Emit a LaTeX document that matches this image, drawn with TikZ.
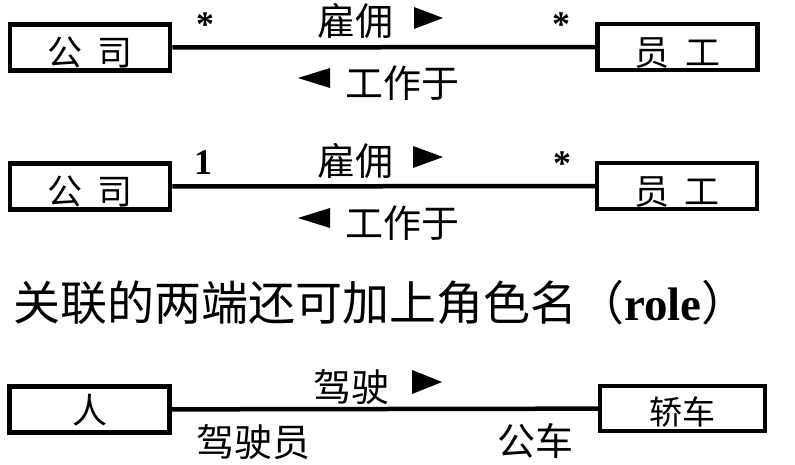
\documentclass[tikz,border=0pt]{standalone}
\usepackage{fontspec}
\setmainfont{Liberation Serif}
\newfontfamily\cjk{Noto Sans CJK SC}
\usetikzlibrary{positioning}

\begin{document}
\begin{tikzpicture}
		[x=1pt,y=-1pt,
		classbox/.style = {draw, line width=4.5pt, minimum width=160pt, minimum height=46pt, inner sep=0pt,
			font=\cjk\fontsize{35}{35}\selectfont, text height=37pt, text depth=0pt},
		assoc/.style = {line width=4.5pt},
		rolename/.style = {inner sep=0pt, font=\cjk\fontsize{38}{38}\selectfont},
		multi/.style = {inner sep=0pt, anchor=base, font=\bfseries\fontsize{36}{36}\selectfont}]
		\useasboundingbox (0,0) rectangle (795,465);
		% first association
		\node[classbox] (co1) at (90,47.5) {公\hspace{0.45em}司};
		\node[classbox] (emp1) at (677.5,47) {员\hspace{0.45em}工};
		\draw[assoc] (co1) -- (emp1);
		\node[multi] (m11) at (205,37) {*};
		\node[multi] (m12) at (561,37) {*};
		\node[rolename] (hire1) at (355,21) {雇佣};
		\node[rolename] (work1) at (402.5,83) {工作于};
		\fill (414,7) -- (443,18) -- (414,29) -- cycle;
		\fill (298,78) -- (330,68) -- (330,88) -- cycle;
		% second association
		\node[classbox] (co2) at (90,186.5) {公\hspace{0.45em}司};
		\node[classbox] (emp2) at (677,186) {员\hspace{0.45em}工};
		\draw[assoc] (co2) -- (emp2);
		\node[multi] (m21) at (203,175) {1};
		\node[multi] (m22) at (562,176) {*};
		\node[rolename] (hire2) at (355,161) {雇佣};
		\node[rolename] (work2) at (402.5,223) {工作于};
		\fill (413,146) -- (443,157) -- (413,168) -- cycle;
		\fill (298,218) -- (330,208) -- (330,228) -- cycle;
		% note
		\node[inner sep=0pt, anchor=west, font=\fontsize{47}{47}\selectfont] (note) at (13,303)
			{{\cjk 关联的两端还可加上角色名（}{\bfseries role}{\cjk ）}};
		% roles
		\node[classbox, text height=27pt] (man) at (89.5,409.5) {人};
		\node[classbox, minimum width=165pt, minimum height=45pt, text height=31pt,
			font=\cjk\fontsize{33}{33}\selectfont] (car) at (682.5,408.5) {轿车};
		\draw[assoc] (man) -- (car);
		\node[rolename] (drive) at (351.5,387) {驾驶};
		\node[rolename] (driver) at (253.5,442) {驾驶员};
		\node[rolename] (bus) at (535,441) {公车};
		\fill (412,370) -- (442,382) -- (412,394) -- cycle;
	\end{tikzpicture}
\end{document}
